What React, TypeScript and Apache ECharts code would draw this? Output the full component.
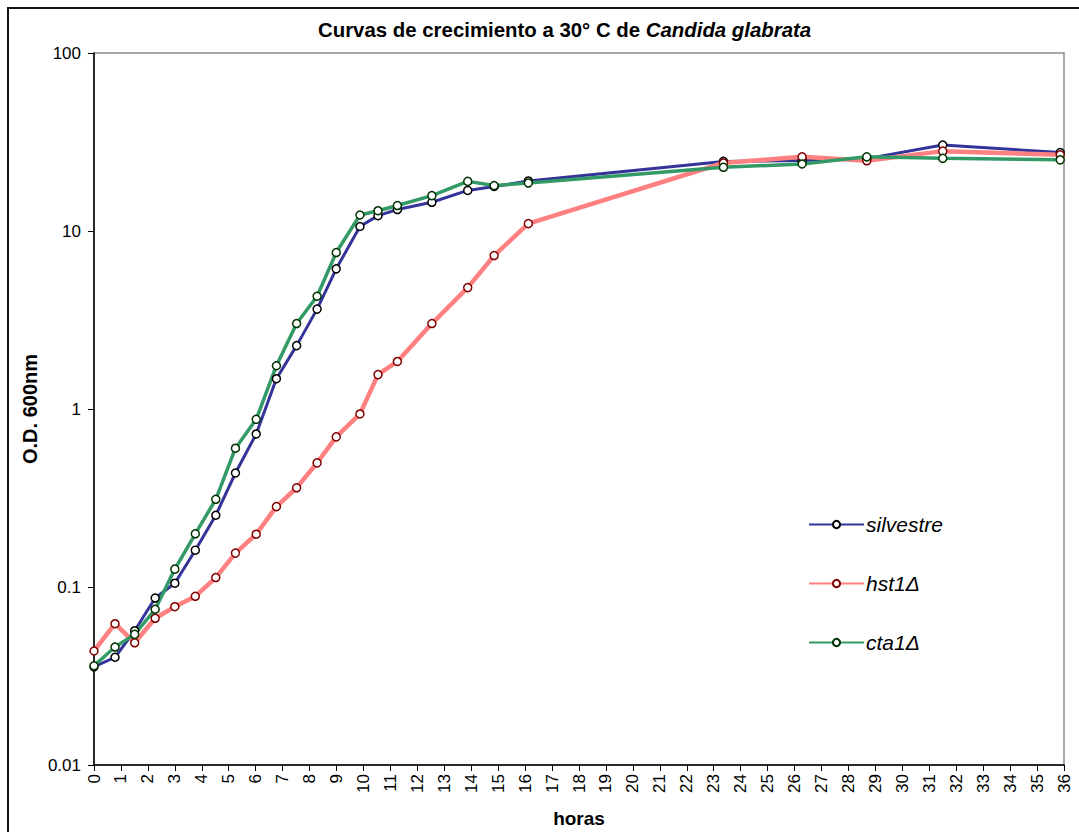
import React, { useEffect, useRef } from "react";
import * as echarts from "echarts";

const hours = [0, 0.78, 1.51, 2.27, 3.0, 3.76, 4.52, 5.25, 6.02, 6.77, 7.52, 8.28, 8.99, 9.87, 10.54, 11.26, 12.54, 13.87, 14.85, 16.12, 23.36, 26.28, 28.68, 31.5, 35.86];
const silvestre = [0.0356, 0.0403, 0.0568, 0.0867, 0.105, 0.161, 0.253, 0.437, 0.724, 1.48, 2.27, 3.64, 6.13, 10.6, 12.2, 13.2, 14.5, 16.9, 17.8, 19.1, 24.6, 24.9, 25.5, 30.4, 27.6];
const hst1 = [0.0437, 0.0622, 0.0486, 0.0667, 0.0775, 0.0887, 0.113, 0.155, 0.198, 0.283, 0.361, 0.498, 0.697, 0.938, 1.56, 1.85, 3.02, 4.81, 7.28, 11.0, 24.1, 26.1, 24.8, 28.1, 26.8];
const cta1 = [0.0361, 0.046, 0.0542, 0.075, 0.126, 0.199, 0.311, 0.602, 0.875, 1.75, 3.02, 4.3, 7.57, 12.3, 13.0, 13.9, 15.8, 19.0, 18.0, 18.6, 22.8, 23.8, 26.1, 25.6, 25.1];
const seriesNames = ["silvestre", "hst1Δ", "cta1Δ"];
const yTickLabels = ["0.01", "0.1", "1", "10", "100"];

export default function App() {
  const ref = useRef<HTMLDivElement>(null);
  useEffect(() => {
    if (!ref.current) return;
    const chart = echarts.init(ref.current, null, { renderer: "svg" });
    const font = "'Liberation Sans', Arial, sans-serif";
    const mk = (vals: number[]) => hours.map((h, i) => [h, vals[i]]);
    const lineColors = ["#333399", "#FF8080", "#339966"];
    const markerBorders = ["#000000", "#800000", "#003300"];
    const widths = [3, 4.5, 3.5];
    const datas = [silvestre, hst1, cta1];
    chart.setOption({
      animation: false,
      backgroundColor: "#fff",
      textStyle: { fontFamily: font },
      title: {
        text: "{a|Curvas de crecimiento a 30° C de }{b|Candida glabrata}",
        left: 318,
        top: 20,
        padding: 0,
        textStyle: {
          rich: {
            a: { fontFamily: font, fontSize: 20.4, fontWeight: "bold", color: "#000" },
            b: { fontFamily: font, fontSize: 20.4, fontWeight: "bold", fontStyle: "italic", color: "#000" },
          },
        },
      },
      graphic: [
        {
          type: "rect",
          shape: { x: 8, y: 8, width: 1200, height: 1000 },
          style: { fill: "none", stroke: "#111", lineWidth: 2 },
          silent: true,
        },
      ],
      grid: {
        left: 94,
        right: 15,
        top: 53,
        bottom: 67,
        outerBoundsMode: "none",
        containLabel: false,
        show: true,
        borderColor: "#8c8c8c",
        borderWidth: 1.5,
        backgroundColor: "transparent",
      },
      legend: {
        orient: "vertical",
        left: 808,
        top: 514,
        padding: 0,
        itemWidth: 55,
        itemHeight: 9,
        itemGap: 38,
        data: seriesNames,
        textStyle: { fontFamily: font, fontSize: 21, fontStyle: "italic", color: "#000", padding: [0, 0, 0, -3] },
      },
      xAxis: {
        type: "value",
        min: 0,
        max: 36,
        interval: 1,
        name: "horas",
        nameLocation: "middle",
        nameGap: 44,
        nameMoveOverlap: false,
        nameTextStyle: { fontFamily: font, fontSize: 19, fontWeight: "bold", color: "#000" },
        axisLine: { lineStyle: { color: "#000", width: 1.5 } },
        axisTick: { length: 6, lineStyle: { color: "#000" } },
        axisLabel: { rotate: 90, fontSize: 17, color: "#000", margin: 9, fontFamily: font },
        splitLine: { show: false },
      },
      yAxis: {
        type: "log",
        logBase: 10,
        min: 0.01,
        max: 100,
        name: "O.D. 600nm",
        nameLocation: "middle",
        nameGap: 54,
        nameMoveOverlap: false,
        nameTextStyle: { fontFamily: font, fontSize: 20, fontWeight: "bold", color: "#000" },
        axisLine: { show: true, lineStyle: { color: "#000", width: 1.5 } },
        axisTick: { show: true, length: 6, lineStyle: { color: "#000" } },
        axisLabel: {
          fontSize: 17,
          color: "#000",
          margin: 13,
          fontFamily: font,
          formatter: (v: number) => {
            const idx = Math.round(Math.log10(v)) + 2;
            return yTickLabels[idx] ?? String(v);
          },
        },
        splitLine: { show: false },
        minorTick: { show: false },
      },
      series: seriesNames.map((name, i) => ({
        name,
        type: "line",
        data: mk(datas[i]),
        symbol: "circle",
        symbolSize: 8,
        showSymbol: true,
        lineStyle: { color: lineColors[i], width: widths[i] },
        itemStyle: { color: "#fff", borderColor: markerBorders[i], borderWidth: 1.5 },
        emphasis: { disabled: true },
      })),
    });
    return () => chart.dispose();
  }, []);
  return <div ref={ref} style={{ position: "fixed", left: 0, top: 0, width: 1079, height: 832 }} />;
}
